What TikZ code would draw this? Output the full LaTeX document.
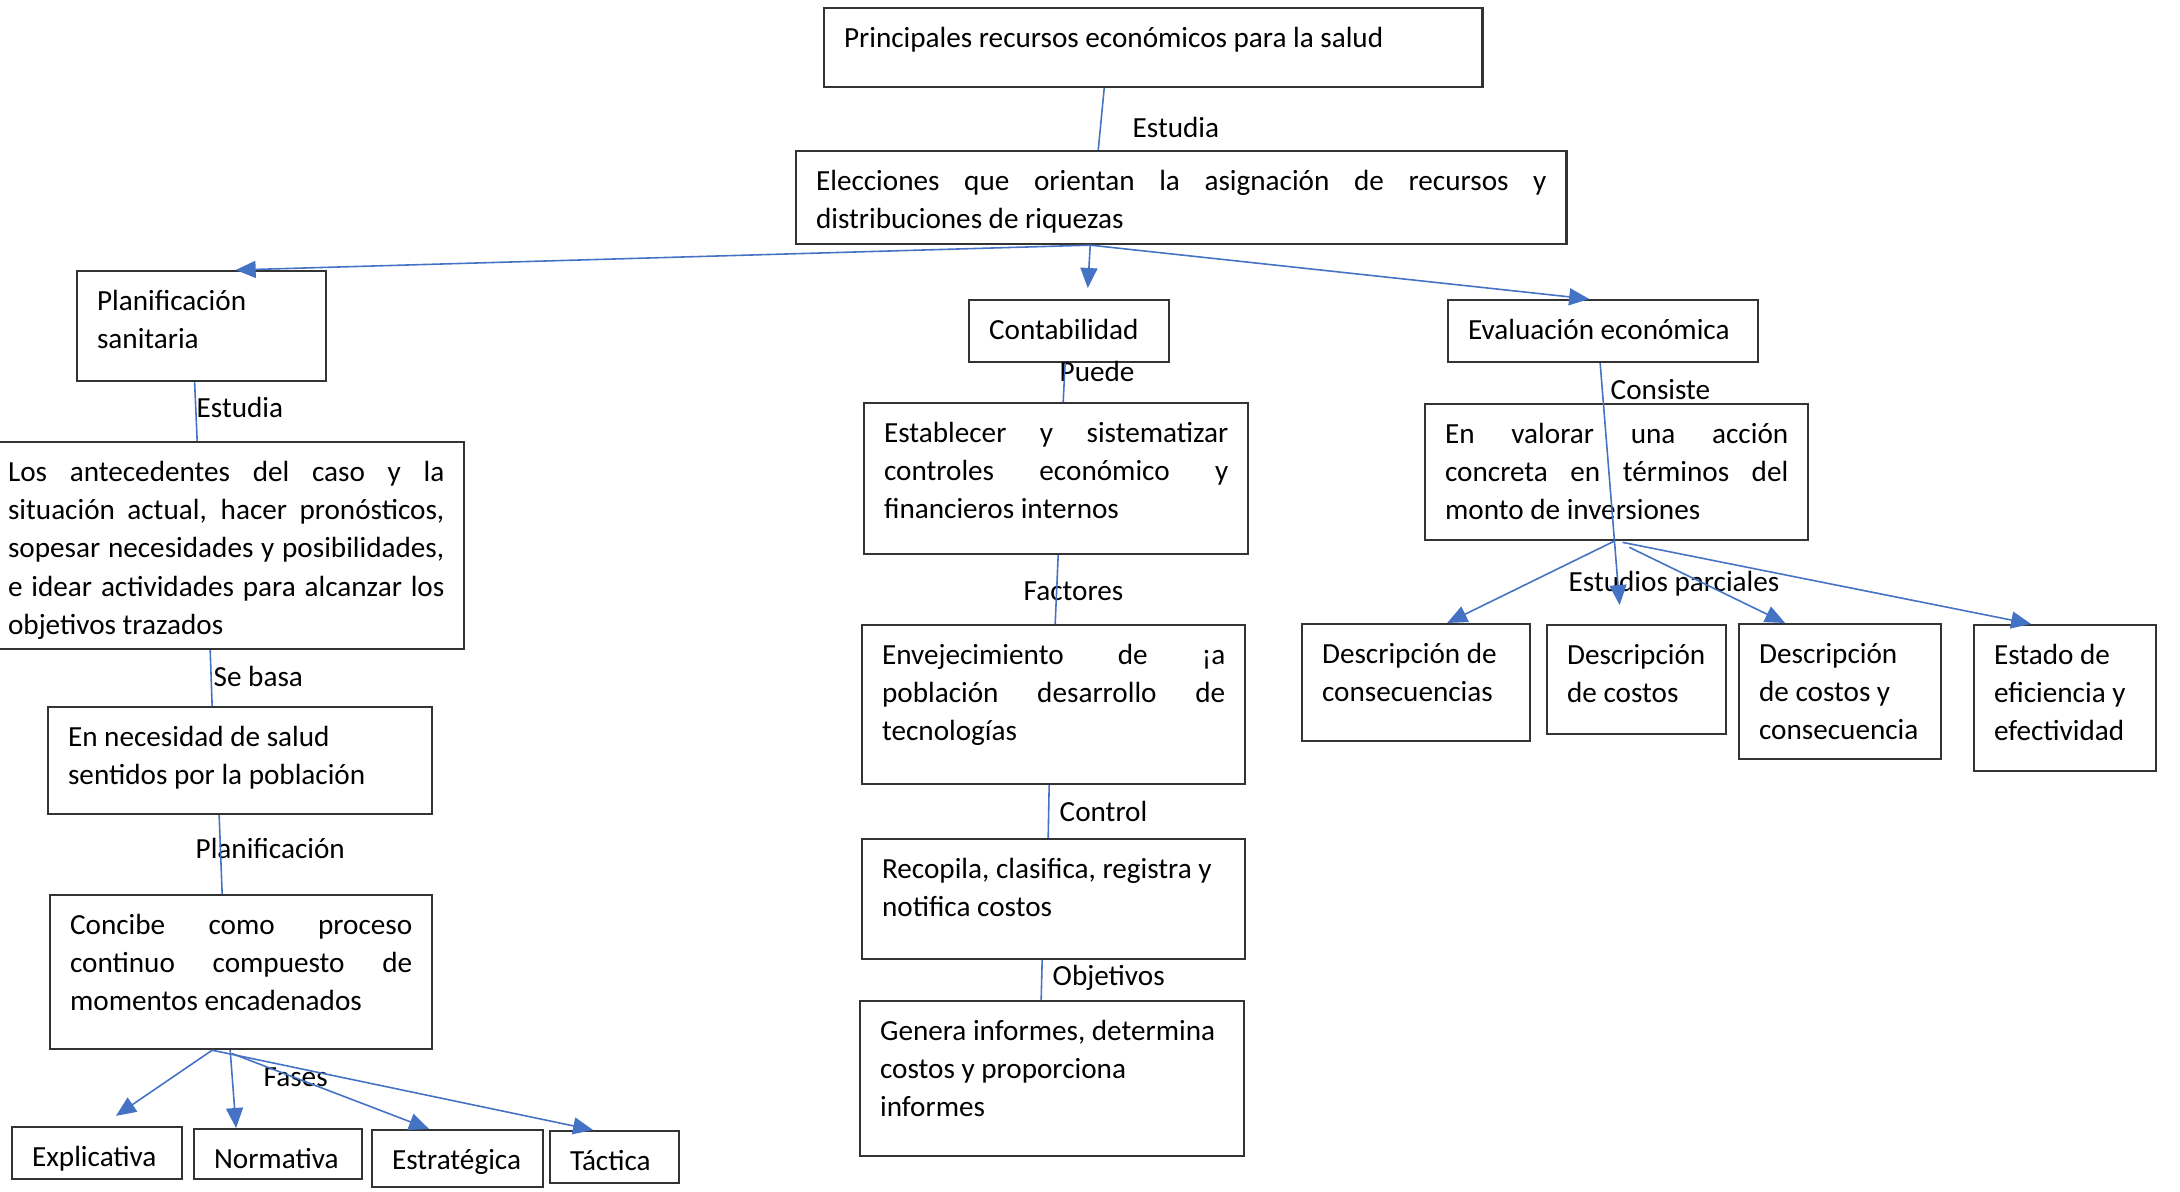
\documentclass[tikz,border=0pt]{standalone}
\usepackage{fontspec}
\setmainfont{Carlito}
\usetikzlibrary{arrows.meta}
\definecolor{linkblue}{HTML}{4472C4}
\newcommand{\boxfont}{\fontsize{8.3}{10.9}\selectfont\tolerance=10000\hyphenpenalty=10000}

\begin{document}
\begin{tikzpicture}
[x=0.01cm, y=-0.01cm, font=\boxfont,
% STYLES
% The box style is used for every framed text
box/.style={rectangle, draw=black!80, line width=0.6pt, anchor=north west, inner xsep=0.2cm, inner ysep=0pt, text height=0.39cm, align=flush left},
% The jbox style is used for the justified texts
jbox/.style={box, align=justify},
% The conn style is used for the blue links, conntip for the ones with a head
conn/.style={color=linkblue, line width=0.45pt},
conntip/.style={-{Triangle[length=0.2cm, width=0.17cm, color=linkblue, fill=linkblue]}},
% The linklabel style is used to write the name of each link
linklabel/.style={anchor=base west, inner sep=0pt, text=black}]

\useasboundingbox (0,0) rectangle (2180,1192);

% Draw boxes
\node [box, text width=6.18cm, text depth=0.40cm] (recursos) at (823,7) {Principales recursos económicos para la salud};
\node [jbox, text width=7.30cm, text depth=0.54cm] (elecciones) at (795,150) {Elecciones que orientan la asignación de recursos y\linebreak distribuciones de riquezas};

% left branch
\node [box, text width=2.09cm, text depth=0.71cm] (planificacion) at (76,270) {Planificación\\sanitaria};
\node [jbox, text width=4.36cm, text depth=1.68cm] (antecedentes) at (-13,441) {Los antecedentes del caso y la\linebreak situación actual, hacer pronósticos,\linebreak sopesar necesidades y posibilidades,\linebreak e idear actividades para alcanzar los\linebreak objetivos trazados};
\node [box, text width=3.44cm, text depth=0.68cm] (necesidad) at (47,706) {En necesidad de salud\\sentidos por la población};
\node [jbox, text width=3.42cm, text depth=1.15cm] (concibe) at (49,894) {Concibe como proceso\linebreak continuo compuesto de\linebreak momentos encadenados};
\node [box, text width=1.30cm, text depth=0.13cm] (explicativa) at (11,1126) {Explicativa};
\node [box, text width=1.28cm, text depth=0.11cm] (normativa) at (193,1128) {Normativa};
\node [box, text width=1.31cm, text depth=0.18cm] (estrategica) at (371,1129) {Estratégica};
\node [box, text width=0.89cm, text depth=0.13cm] (tactica) at (549,1130) {Táctica};

% middle branch
\node [box, text width=1.60cm, text depth=0.23cm] (contabilidad) at (968,299) {Contabilidad};
\node [jbox, text width=3.44cm, text depth=1.12cm] (establecer) at (863,402) {Establecer y sistematizar\linebreak controles económico y\linebreak financieros internos};
\node [jbox, text width=3.43cm, text depth=1.20cm] (envejecimiento) at (861,624) {Envejecimiento de ¡a\linebreak población desarrollo de\linebreak tecnologías};
\node [box, text width=3.43cm, text depth=0.81cm] (recopila) at (861,838) {Recopila, clasifica, registra y\\notifica costos};
\node [box, text width=3.44cm, text depth=1.16cm] (genera) at (859,1000) {Genera informes, determina\\costos y proporciona\\informes};

% right branch
\node [box, text width=2.70cm, text depth=0.23cm] (evaluacion) at (1447,299) {Evaluación económica};
\node [jbox, text width=3.43cm, text depth=0.97cm] (valorar) at (1424,403) {En valorar una acción\linebreak concreta en términos del\linebreak monto de inversiones};
\node [box, text width=1.88cm, text depth=0.78cm] (desconsec) at (1301,623) {Descripción de\\consecuencias};
\node [box, text width=1.39cm, text depth=0.70cm] (descostos) at (1546,624) {Descripción\\de costos};
\node [box, text width=1.62cm, text depth=0.96cm] (desambos) at (1738,623) {Descripción\\de costos y\\consecuencia};
\node [box, text width=1.42cm, text depth=1.07cm] (estado) at (1973,624) {Estado de\\eficiencia y\\efectividad};

% Names of the links
\node [linklabel] (l-estudia) at (1132,138) {Estudia};
\node [linklabel] (l-estudia2) at (196,418) {Estudia};
\node [linklabel] (l-sebasa) at (213,686) {Se basa};
\node [linklabel] (l-planif) at (195,858) {Planificación};
\node [linklabel] (l-fases) at (263,1086) {Fases};
\node [linklabel] (l-puede) at (1059,382) {Puede};
\node [linklabel] (l-factores) at (1023,601) {Factores};
\node [linklabel] (l-control) at (1059,821) {Control};
\node [linklabel] (l-objetivos) at (1052,985) {Objetivos};
\node [linklabel] (l-consiste) at (1610,400) {Consiste};
\node [linklabel] (l-parciales) at (1568,592) {Estudios parciales};

% Draw the links between boxes
\path[conn]
([xshift=-0.49cm]recursos.south) edge ([xshift=-0.83cm]elecciones.north)
([xshift=-0.91cm]elecciones.south) edge[conntip] ([xshift=0.34cm]planificacion.north)
([xshift=-0.91cm]elecciones.south) edge[conntip, shorten >=0.11cm] ([xshift=0.18cm]contabilidad.north)
([xshift=-0.91cm]elecciones.south) edge[conntip] ([xshift=-0.14cm]evaluacion.north)
% left
([xshift=-0.07cm]planificacion.south) edge ([xshift=-0.29cm]antecedentes.north)
([xshift=-0.16cm]antecedentes.south) edge ([xshift=-0.28cm]necesidad.north)
([xshift=-0.21cm]necesidad.south) edge ([xshift=-0.19cm]concibe.north)
([xshift=-0.29cm]concibe.south) edge[conntip, shorten >=0.18cm] ([xshift=0.04cm]explicativa.north)
([xshift=-0.11cm]concibe.south) edge[conntip] ([xshift=-0.42cm]normativa.north)
([xshift=-0.18cm]concibe.south) edge[conntip, shorten <=0.09cm] ([xshift=-0.285cm]estrategica.north)
([xshift=-0.29cm]concibe.south) edge[conntip] ([xshift=-0.215cm]tactica.north)
% middle
([xshift=-0.04cm]contabilidad.south) edge ([xshift=0.07cm]establecer.north)
([xshift=0.02cm]establecer.south) edge ([xshift=0.015cm]envejecimiento.north)
([xshift=-0.045cm]envejecimiento.south) edge ([xshift=-0.055cm]recopila.north)
([xshift=-0.115cm]recopila.south) edge ([xshift=-0.11cm]genera.north)
% right
([xshift=-0.03cm]evaluacion.south) edge[conntip, shorten >=0.19cm] ([xshift=-0.155cm]descostos.north)
([xshift=-0.025cm]valorar.south) edge[conntip] ([xshift=0.31cm]desconsec.north)
(valorar.south) edge[conntip, shorten <=0.14cm] ([xshift=-0.55cm]desambos.north)
(valorar.south) edge[conntip, shorten <=0.06cm] ([xshift=-0.34cm]estado.north);

\end{tikzpicture}
\end{document}
